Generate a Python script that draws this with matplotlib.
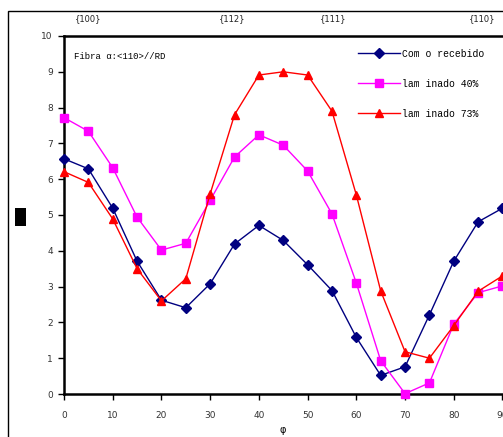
import matplotlib.pyplot as plt
from matplotlib.patches import Rectangle

phi = [0, 5, 10, 15, 20, 25, 30, 35, 40, 45, 50, 55, 60, 65, 70, 75, 80, 85, 90]
como_recebido = [6.57, 6.29, 5.19, 3.71, 2.62, 2.41, 3.08, 4.19, 4.71, 4.29, 3.61, 2.89, 1.58, 0.52, 0.76, 2.21, 3.71, 4.81, 5.19]
laminado_40 = [7.72, 7.34, 6.32, 4.94, 4.02, 4.21, 5.41, 6.62, 7.24, 6.95, 6.23, 5.03, 3.10, 0.93, 0.01, 0.31, 1.95, 2.83, 3.02]
laminado_73 = [6.21, 5.91, 4.89, 3.50, 2.60, 3.22, 5.59, 7.80, 8.91, 9.00, 8.91, 7.90, 5.56, 2.88, 1.18, 1.00, 1.91, 2.87, 3.30]
series_labels = ["Com o recebido", "lam inado 40%", "lam inado 73%"]
top_labels = ["{100}", "{112}", "{111}", "{110}"]
x_ticks = [0, 10, 20, 30, 40, 50, 60, 70, 80, 90]
y_ticks = [0, 1, 2, 3, 4, 5, 6, 7, 8, 9, 10]

W, H = 503, 437
fig = plt.figure(figsize=(W / 100, H / 100), dpi=100)

# outer frame (extends past the right/bottom edges)
fig.patches.append(Rectangle((8 / W, -0.2), 1.2, 1 - 11 / H + 0.2, transform=fig.transFigure,
                             fill=False, edgecolor='black', linewidth=1.0))

x0, x1 = 64, 502.5
yb, yt = 394, 36
ax = fig.add_axes([x0 / W, (H - yb) / H, (x1 - x0) / W, (yb - yt) / H])
ax.set_xlim(0, 90)
ax.set_ylim(0, 10)

ax.plot(phi, como_recebido, color='#000080', marker='D', markersize=4.8, linewidth=1.0,
        label=series_labels[0], clip_on=False, zorder=3)
ax.plot(phi, laminado_40, color='#FF00FF', marker='s', markersize=5.3, linewidth=1.0,
        label=series_labels[1], clip_on=False, zorder=3)
ax.plot(phi, laminado_73, color='#FF0000', marker='^', markersize=6.3, linewidth=1.0,
        label=series_labels[2], clip_on=False, zorder=3)

ax.set_xticks(x_ticks)
ax.set_yticks(y_ticks)
ax.tick_params(direction='out', length=4, width=1, labelsize=6.5, colors='black', pad=8)
ax.tick_params(axis='y', pad=4)
for lbl in ax.get_xticklabels() + ax.get_yticklabels():
    lbl.set_color('#333333')
for s in ['left', 'bottom', 'top']:
    ax.spines[s].set_linewidth(1.8)
ax.spines['right'].set_visible(False)

ax.set_xlabel('φ', fontsize=7, labelpad=4)

leg = ax.legend(loc='upper left', bbox_to_anchor=((349 - x0) / (x1 - x0), 1.0 - 4 / (yb - yt)),
                frameon=False, prop={'family': 'Liberation Mono', 'size': 7},
                handlelength=4.3, labelspacing=2.05, handletextpad=0.3)

ax.text(0.022, 0.955, 'Fibra α:<110>//RD', transform=ax.transAxes, fontsize=6.5,
        family=['Liberation Mono', 'DejaVu Sans'], va='top', ha='left')

top_x = [88, 232, 333, 482]
for tx, tl in zip(top_x, top_labels):
    fig.text(tx / W, 1 - 19 / H, tl, fontsize=6, ha='center', va='center', color='#222222')

# black block at y-axis label position
fig.patches.append(Rectangle((15 / W, 1 - 226 / H), 11 / W, 18 / H, transform=fig.transFigure,
                             facecolor='black', edgecolor='none'))

fig.savefig('out.png', dpi=100)
